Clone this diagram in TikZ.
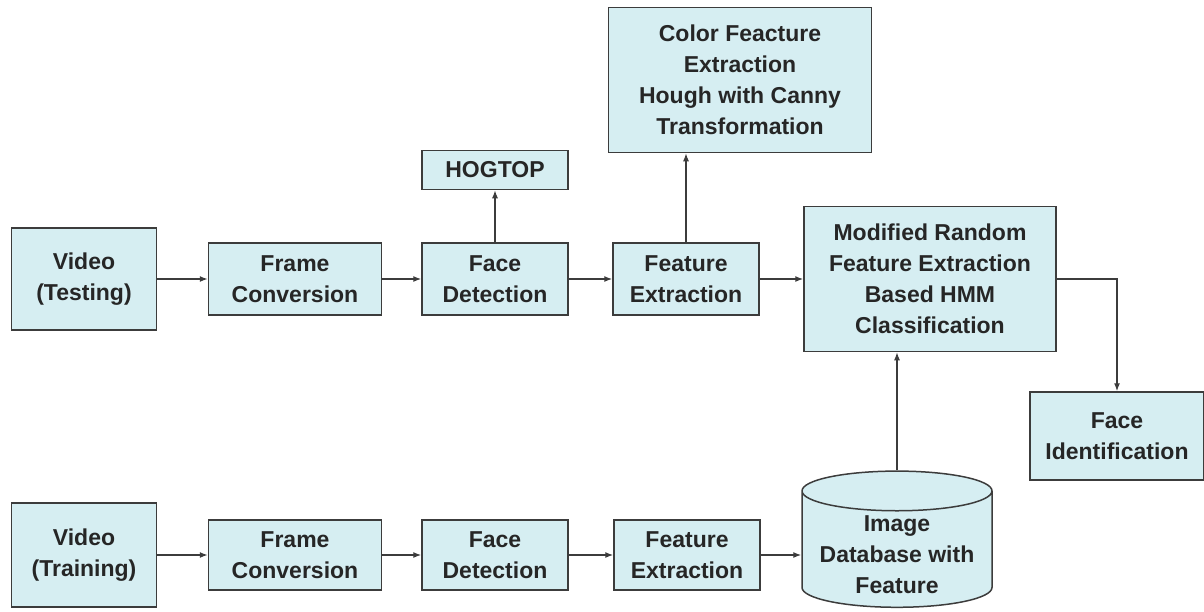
\documentclass[tikz,border=0pt]{standalone}
\usepackage{fontspec}
\setmainfont{Liberation Sans}
\usetikzlibrary{positioning, arrows.meta, shapes.geometric}
\definecolor{boxfill}{RGB}{214,238,242}
\definecolor{boxline}{RGB}{60,60,60}

\begin{document}
\begin{tikzpicture}
[
    x=1pt, y=1pt, node distance=200pt and 200pt, on grid,
    font=\fontsize{23}{31}\selectfont\bfseries,
    blue_box/.style={rectangle, draw=boxline, fill=boxfill, line width=1.5pt, align=center, inner sep=2pt, text=black!85},
    db_node/.style={cylinder, shape border rotate=90, aspect=0.25, draw=boxline, fill=boxfill, line width=1.5pt, align=center, inner xsep=2pt, inner ysep=0pt, text=black!85},
    flow/.style={-{Latex[length=8pt, width=6pt]}, line width=1.3pt, color=boxline},
]
    \useasboundingbox (0,0) rectangle (1204,-611);
    \node[blue_box, minimum width=145pt, minimum height=102pt] (vtest) at (84,-279) {Video\\(Testing)} ;
    \node[blue_box, minimum width=173pt, minimum height=72pt] (fctest) [right=211pt of vtest] {Frame\\Conversion} ;
    \node[blue_box, minimum width=146pt, minimum height=72pt] (fdtest) [right=200pt of fctest] {Face\\Detection} ;
    \node[blue_box, minimum width=146pt, minimum height=39pt] (hog) [above=109pt of fdtest] {HOGTOP} ;
    \node[blue_box, minimum width=146pt, minimum height=72pt] (fetest) [right=191pt of fdtest] {Feature\\Extraction} ;
    \node[blue_box, minimum width=263pt, minimum height=145pt] (color) [above right=199pt and 54pt of fetest] {Color Feacture\\Extraction\\Hough with Canny\\Transformation} ;
    \node[blue_box, minimum width=252pt, minimum height=145pt] (hmm) [right=244pt of fetest] {Modified Random\\Feature Extraction\\Based HMM\\Classification} ;
    \node[blue_box, minimum width=174pt, minimum height=88pt] (faceid) [below right=157pt and 187pt of hmm] {Face\\Identification} ;
    \node[blue_box, minimum width=145pt, minimum height=104pt] (vtrain) [below=276pt of vtest] {Video\\(Training)} ;
    \node[blue_box, minimum width=173pt, minimum height=70pt] (fctrain) [right=211pt of vtrain] {Frame\\Conversion} ;
    \node[blue_box, minimum width=146pt, minimum height=70pt] (fdtrain) [right=200pt of fctrain] {Face\\Detection} ;
    \node[blue_box, minimum width=146pt, minimum height=70pt] (fetrain) [right=192pt of fdtrain] {Feature\\Extraction} ;
    \node[db_node, minimum width=190pt] (db) [above right=3.5pt and 210pt of fetrain] {\raisebox{-11pt}[40pt][40pt]{\begin{tabular}{@{}c@{}}Image\\Database with\\Feature\end{tabular}}} ;
    \draw[flow] (vtest) -- (fctest) ;
    \draw[flow] (fctest) -- (fdtest) ;
    \draw[flow] (fdtest) -- (fetest) ;
    \draw[flow] (fetest) -- (hmm) ;
    \draw[flow] (fdtest) -- (hog) ;
    \draw[flow] (fetest.north) -- (fetest.north |- color.south) ;
    \draw[flow] (hmm.east) -| (faceid.north) ;
    \draw[flow] (vtrain) -- (fctrain) ;
    \draw[flow] (fctrain) -- (fdtrain) ;
    \draw[flow] (fdtrain) -- (fetrain) ;
    \draw[flow] (fetrain.east) -- (fetrain.east -| db.west) ;
    \draw[flow] (db.north) -- (db.north |- hmm.south) ;
\end{tikzpicture}
\end{document}
